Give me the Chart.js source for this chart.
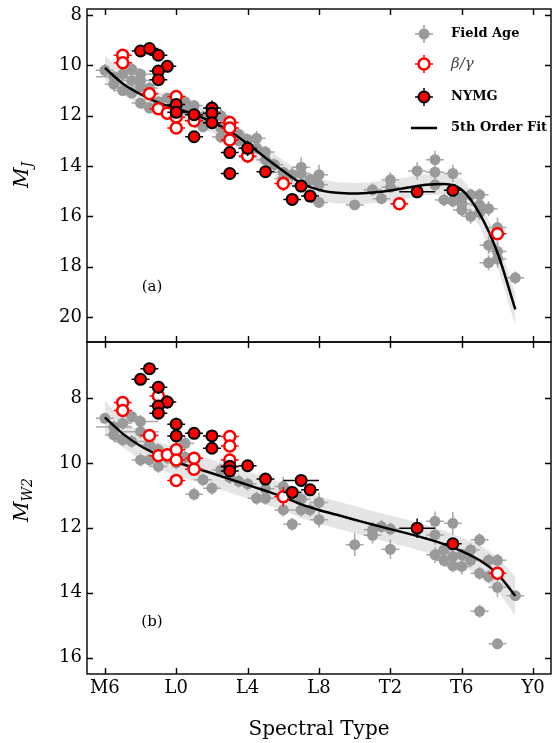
<!DOCTYPE html>
<html>
<head>
<meta charset="utf-8">
<script src="https://cdn.jsdelivr.net/npm/chart.js@4.4.1/dist/chart.umd.min.js"></script>
<style>
  html, body { margin: 0; padding: 0; background: #fff; }
  #wrap { position: relative; width: 559px; height: 743px; overflow: hidden; }
  canvas { position: absolute; left: 0; }
  #panelA { top: 0; }
  #panelB { top: 330px; }
</style>
</head>
<body>
<div id="wrap">
  <canvas id="panelA" width="559" height="350"></canvas>
  <canvas id="panelB" width="559" height="413"></canvas>
</div>
<script>
// spectral type axis: M6 = 6, L0 = 10, T0 = 20, Y0 = 30
const spectralTicks = [6, 10, 14, 18, 22, 26, 30];
const spectralLabels = ['M6', 'L0', 'L4', 'L8', 'T2', 'T6', 'Y0'];
const mjTicks = [8, 10, 12, 14, 16, 18, 20];
const mw2Ticks = [8, 10, 12, 14, 16];

// polynomial fit sampled at each subtype, with its scatter band
const fitX = [6, 7, 8, 9, 10, 11, 12, 13, 14, 15, 16, 17, 18, 19, 20, 21, 22, 23, 24, 25, 26, 27, 28, 29];
const fitMJ = [10.1, 10.72, 11.15, 11.48, 11.72, 11.95, 12.25, 12.62, 13.12, 13.67, 14.2, 14.68, 14.95, 15.07, 15.1, 15.06, 14.98, 14.86, 14.75, 14.72, 14.95, 15.9, 17.45, 19.7];
const bandMJTop = [9.6, 10.27, 10.73, 11.06, 11.3, 11.53, 11.83, 12.2, 12.7, 13.25, 13.78, 14.26, 14.53, 14.65, 14.68, 14.64, 14.56, 14.44, 14.33, 14.3, 14.5, 15.4, 16.9, 19.05];
const bandMJBot = [10.6, 11.17, 11.57, 11.9, 12.14, 12.37, 12.67, 13.04, 13.54, 14.09, 14.62, 15.1, 15.37, 15.49, 15.52, 15.48, 15.4, 15.28, 15.17, 15.14, 15.4, 16.4, 18.0, 20.35];
const fitMW2 = [8.6, 9.1, 9.48, 9.76, 9.98, 10.15, 10.32, 10.5, 10.68, 10.86, 11.05, 11.28, 11.45, 11.6, 11.75, 11.9, 12.04, 12.18, 12.33, 12.5, 12.72, 13.0, 13.42, 14.1];
const bandMW2Top = [8.1, 8.68, 9.06, 9.34, 9.56, 9.73, 9.9, 10.08, 10.26, 10.44, 10.63, 10.86, 11.03, 11.18, 11.33, 11.48, 11.62, 11.76, 11.91, 12.08, 12.3, 12.52, 12.9, 13.5];
const bandMW2Bot = [9.1, 9.52, 9.9, 10.18, 10.4, 10.57, 10.74, 10.92, 11.1, 11.28, 11.47, 11.7, 11.87, 12.02, 12.17, 12.32, 12.46, 12.6, 12.75, 12.92, 13.14, 13.48, 13.94, 14.7];

// [spectral type, magnitude, SpT error, mag error]
const fieldMJ = [
  [6.0, 10.2, 0.5, 0.25], [6.5, 10.75, 0.5, 0.3], [6.5, 10.45, 1.0, 0.2], [7.0, 10.35, 0.5, 0.25],
  [7.0, 11.0, 0.5, 0.2], [7.5, 10.15, 0.5, 0.3], [7.5, 10.6, 1.0, 0.3], [7.5, 11.1, 0.5, 0.2],
  [8.0, 10.35, 1.0, 0.2], [8.0, 10.6, 1.0, 0.25], [8.0, 10.85, 0.5, 0.3], [8.0, 11.5, 0.5, 0.2],
  [8.5, 10.9, 0.5, 0.25], [8.5, 11.7, 0.5, 0.2], [9.0, 11.45, 0.5, 0.2], [9.0, 11.7, 0.5, 0.25],
  [9.5, 11.3, 0.5, 0.2], [10.0, 11.4, 0.5, 0.2], [10.5, 11.45, 0.5, 0.25], [10.5, 11.75, 0.5, 0.2],
  [11.0, 11.6, 0.5, 0.2], [11.5, 12.05, 0.5, 0.25], [11.5, 12.45, 0.5, 0.2], [12.0, 12.1, 0.5, 0.2],
  [12.5, 12.0, 0.5, 0.3], [12.5, 12.5, 0.5, 0.2], [12.5, 12.85, 0.5, 0.25], [13.0, 12.6, 0.5, 0.2],
  [13.5, 12.75, 0.5, 0.25], [13.5, 13.0, 0.5, 0.2], [14.0, 12.95, 0.5, 0.2], [14.0, 13.65, 0.5, 0.25],
  [14.5, 12.9, 0.5, 0.3], [14.5, 13.3, 0.5, 0.2], [15.0, 13.45, 0.5, 0.25], [15.0, 13.75, 0.5, 0.2],
  [15.5, 13.95, 0.5, 0.25], [16.0, 14.25, 0.5, 0.2], [16.0, 14.5, 0.5, 0.25], [16.5, 14.35, 0.5, 0.3],
  [17.0, 14.05, 0.5, 0.4], [17.0, 14.3, 0.5, 0.3], [17.5, 14.55, 0.5, 0.25], [18.0, 14.35, 0.5, 0.4],
  [18.0, 14.75, 0.5, 0.3], [18.0, 15.45, 0.5, 0.2], [20.0, 15.55, 0.5, 0.2], [21.0, 14.95, 0.5, 0.25],
  [21.5, 15.3, 0.5, 0.2], [22.0, 14.55, 0.5, 0.3], [22.0, 14.85, 0.5, 0.2], [23.5, 14.2, 0.5, 0.35],
  [24.5, 13.75, 0.5, 0.35], [24.5, 14.25, 0.5, 0.3], [24.5, 14.75, 0.5, 0.3], [25.0, 15.35, 0.5, 0.25],
  [25.5, 14.3, 0.5, 0.35], [25.5, 15.4, 0.5, 0.25], [26.0, 15.25, 0.5, 0.25], [26.0, 15.5, 0.5, 0.3],
  [26.0, 15.75, 0.5, 0.25], [26.5, 15.15, 0.5, 0.25], [26.5, 16.0, 0.5, 0.3], [27.0, 15.15, 0.5, 0.25],
  [27.0, 15.55, 0.5, 0.3], [27.0, 15.85, 0.5, 0.3], [27.5, 15.7, 0.5, 0.3], [27.5, 17.15, 0.5, 0.35],
  [27.5, 17.85, 0.5, 0.3], [28.0, 16.45, 0.5, 0.4], [28.0, 17.4, 0.5, 0.4], [28.0, 17.7, 0.5, 0.35],
  [29.0, 18.45, 0.5, 0.25]
];
const betaMJ = [
  [7.0, 9.6, 0.5, 0.2], [7.0, 9.9, 0.5, 0.2], [8.5, 11.13, 0.5, 0.2], [9.0, 11.73, 0.5, 0.2],
  [9.5, 11.9, 0.5, 0.2], [10.0, 11.24, 0.5, 0.2], [10.0, 12.05, 0.5, 0.2], [10.0, 12.49, 0.5, 0.2],
  [11.0, 12.2, 0.5, 0.2], [13.0, 12.27, 0.5, 0.2], [13.0, 12.49, 0.5, 0.2], [13.0, 12.97, 0.5, 0.2],
  [14.0, 13.6, 0.5, 0.2], [16.0, 14.7, 0.5, 0.3], [22.5, 15.5, 0.5, 0.15], [28.0, 16.7, 0.5, 0.2]
];
const nymgMJ = [
  [8.0, 9.43, 0.5, 0.15], [8.5, 9.33, 0.5, 0.15], [9.0, 9.6, 0.5, 0.15], [9.5, 10.04, 0.5, 0.2],
  [9.0, 10.23, 0.5, 0.15], [9.0, 10.57, 0.5, 0.15], [10.0, 11.56, 0.5, 0.25], [10.0, 11.87, 0.5, 0.15],
  [11.0, 11.96, 0.5, 0.15], [12.0, 11.7, 0.5, 0.3], [12.0, 11.9, 0.5, 0.2], [12.0, 12.28, 0.5, 0.15],
  [11.0, 12.84, 0.5, 0.15], [13.0, 13.47, 0.5, 0.15], [13.0, 14.3, 0.5, 0.15], [14.0, 13.3, 0.5, 0.3],
  [15.0, 14.23, 0.5, 0.15], [16.5, 15.33, 0.5, 0.15], [17.0, 14.8, 0.5, 0.15], [17.5, 15.2, 0.5, 0.15],
  [23.5, 15.03, 1.0, 0.15], [25.5, 14.97, 0.5, 0.15]
];

const fieldMW2 = [
  [6.0, 8.63, 0.5, 0.15], [6.5, 9.14, 0.5, 0.2], [6.5, 8.9, 1.0, 0.2], [7.0, 8.78, 0.5, 0.2],
  [7.0, 9.29, 0.5, 0.2], [7.5, 8.57, 0.5, 0.2], [7.5, 9.34, 1.0, 0.2], [8.0, 8.73, 1.0, 0.2],
  [8.0, 9.04, 1.0, 0.2], [8.0, 9.91, 0.5, 0.2], [8.5, 9.45, 0.5, 0.2], [8.5, 9.91, 0.5, 0.2],
  [9.0, 9.6, 0.5, 0.2], [9.0, 10.11, 0.5, 0.2], [9.5, 9.85, 0.5, 0.2], [10.0, 10.0, 0.5, 0.2],
  [10.5, 9.4, 0.5, 0.2], [10.5, 9.83, 0.5, 0.2], [11.0, 10.97, 0.5, 0.2], [11.5, 10.52, 0.5, 0.2],
  [12.0, 10.78, 0.5, 0.2], [12.5, 10.22, 0.5, 0.2], [13.0, 10.45, 0.5, 0.2], [13.5, 10.57, 0.5, 0.2],
  [14.0, 10.65, 0.5, 0.2], [14.5, 11.09, 0.5, 0.2], [15.0, 11.09, 0.5, 0.2], [15.0, 10.8, 0.5, 0.2],
  [16.0, 10.73, 0.5, 0.3], [16.0, 11.45, 0.5, 0.2], [16.5, 11.89, 0.5, 0.2], [17.0, 11.12, 0.5, 0.25],
  [17.0, 11.45, 0.5, 0.2], [17.5, 11.45, 0.5, 0.2], [18.0, 11.22, 0.5, 0.3], [18.0, 11.75, 0.5, 0.25],
  [20.0, 12.52, 0.5, 0.35], [21.0, 12.06, 0.5, 0.25], [21.0, 12.23, 0.5, 0.25], [21.5, 11.96, 0.5, 0.2],
  [22.0, 12.04, 0.5, 0.2], [22.0, 12.66, 0.5, 0.3], [24.5, 11.8, 0.5, 0.3], [24.5, 12.22, 0.5, 0.3],
  [24.5, 12.83, 0.5, 0.25], [25.0, 12.68, 0.5, 0.2], [25.0, 13.0, 0.5, 0.2], [25.5, 11.86, 0.5, 0.35],
  [25.5, 12.88, 0.5, 0.2], [25.5, 13.17, 0.5, 0.2], [26.0, 12.83, 0.5, 0.2], [26.0, 13.19, 0.5, 0.25],
  [26.5, 12.68, 0.5, 0.2], [26.5, 13.0, 0.5, 0.2], [27.0, 12.37, 0.5, 0.2], [27.0, 13.4, 0.5, 0.2],
  [27.0, 14.57, 0.5, 0.2], [27.5, 13.0, 0.5, 0.2], [27.5, 13.5, 0.5, 0.2], [28.0, 13.0, 0.5, 0.2],
  [28.0, 13.83, 0.5, 0.3], [28.0, 15.57, 0.5, 0.15], [29.0, 14.09, 0.5, 0.15]
];
const betaMW2 = [
  [7.0, 8.14, 0.5, 0.2], [7.0, 8.39, 0.5, 0.2], [8.5, 9.16, 0.5, 0.2], [9.0, 7.94, 0.5, 0.2],
  [9.0, 9.78, 0.5, 0.2], [9.5, 9.75, 0.5, 0.2], [10.0, 9.6, 0.5, 0.2], [10.0, 9.91, 0.5, 0.2],
  [10.0, 10.54, 0.5, 0.15], [11.0, 9.86, 0.5, 0.2], [11.0, 10.2, 0.5, 0.2], [13.0, 9.19, 0.5, 0.2],
  [13.0, 9.48, 0.5, 0.2], [13.0, 9.91, 0.5, 0.2], [13.0, 10.11, 0.5, 0.2], [16.0, 11.04, 0.5, 0.3],
  [28.0, 13.4, 0.5, 0.2]
];
const nymgMW2 = [
  [8.0, 7.43, 0.5, 0.15], [8.5, 7.1, 0.5, 0.15], [9.0, 7.67, 0.5, 0.2], [9.5, 8.13, 0.5, 0.2],
  [9.0, 8.25, 0.5, 0.15], [9.0, 8.47, 0.5, 0.15], [10.0, 8.81, 0.5, 0.2], [10.0, 9.17, 0.5, 0.2],
  [11.0, 9.09, 0.5, 0.15], [12.0, 9.17, 0.5, 0.15], [12.0, 9.55, 0.5, 0.15], [13.0, 10.11, 0.5, 0.15],
  [13.0, 10.25, 0.5, 0.15], [14.0, 10.09, 0.5, 0.15], [15.0, 10.5, 0.5, 0.15], [16.5, 10.91, 0.5, 0.15],
  [17.0, 10.54, 1.0, 0.15], [17.5, 10.83, 0.5, 0.15], [23.5, 12.01, 1.0, 0.3], [25.5, 12.49, 0.5, 0.15]
];

const SERIF = 'DejaVu Serif';
const GRAY = '#9a9a9a';
const RED = '#ff0000';

const points = (rows) => rows.map(r => ({ x: r[0], y: r[1], xe: r[2], ye: r[3] }));
const curve = (ys) => fitX.map((x, i) => ({ x: x, y: ys[i] }));

// error bars go under each dataset's own markers
const errorBars = {
  id: 'errorBars',
  beforeDatasetDraw(chart, args) {
    const ds = chart.data.datasets[args.index];
    if (!ds.errorColor) return;
    const xs = chart.scales.x, ys = chart.scales.y, ctx = chart.ctx;
    ctx.save();
    ctx.strokeStyle = ds.errorColor;
    ctx.lineWidth = 1.5;
    ctx.beginPath();
    ds.data.forEach(p => {
      const cx = xs.getPixelForValue(p.x), cy = ys.getPixelForValue(p.y);
      ctx.moveTo(xs.getPixelForValue(p.x - p.xe), cy);
      ctx.lineTo(xs.getPixelForValue(p.x + p.xe), cy);
      ctx.moveTo(cx, ys.getPixelForValue(p.y - p.ye));
      ctx.lineTo(cx, ys.getPixelForValue(p.y + p.ye));
    });
    ctx.stroke();
    ctx.restore();
  }
};

// box, inward ticks on all four sides, panel tag and y title
const frame = {
  id: 'frame',
  afterDatasetsDraw(chart, args, opts) {
    const { ctx, chartArea: a, scales } = chart;
    ctx.save();
    ctx.strokeStyle = '#000';
    ctx.lineWidth = 1.4;
    ctx.strokeRect(a.left, a.top, a.right - a.left, a.bottom - a.top);
    ctx.beginPath();
    spectralTicks.forEach(v => {
      const px = Math.round(scales.x.getPixelForValue(v)) + 0.5;
      ctx.moveTo(px, a.top); ctx.lineTo(px, a.top + 6);
      ctx.moveTo(px, a.bottom); ctx.lineTo(px, a.bottom - 6);
    });
    opts.yTicks.forEach(v => {
      const py = Math.round(scales.y.getPixelForValue(v)) + 0.5;
      ctx.moveTo(a.left, py); ctx.lineTo(a.left + 6, py);
      ctx.moveTo(a.right, py); ctx.lineTo(a.right - 6, py);
    });
    ctx.stroke();

    ctx.fillStyle = '#000';
    ctx.font = '15px "' + SERIF + '"';
    ctx.textAlign = 'center';
    ctx.textBaseline = 'middle';
    ctx.fillText(opts.tag, 152, opts.tagY);

    // rotated M with subscript
    ctx.translate(28, opts.titleY);
    ctx.rotate(-Math.PI / 2);
    ctx.textAlign = 'left';
    ctx.textBaseline = 'alphabetic';
    ctx.font = 'italic 20px "' + SERIF + '"';
    const wM = ctx.measureText('M').width;
    ctx.font = 'italic 14px "' + SERIF + '"';
    const wS = ctx.measureText(opts.sub).width;
    const x0 = -(wM + wS) / 2;
    ctx.font = 'italic 20px "' + SERIF + '"';
    ctx.fillText('M', x0, 0);
    ctx.font = 'italic 14px "' + SERIF + '"';
    ctx.fillText(opts.sub, x0 + wM, 4);
    ctx.restore();
  }
};

function drawMarker(ctx, x, y, kind) {
  ctx.lineWidth = 1.5;
  ctx.strokeStyle = kind === 'field' ? GRAY : (kind === 'beta' ? RED : '#000');
  ctx.beginPath();
  ctx.moveTo(x - 9, y); ctx.lineTo(x + 9, y);
  ctx.moveTo(x, y - 9); ctx.lineTo(x, y + 9);
  ctx.stroke();
  ctx.beginPath();
  ctx.arc(x, y, 5.5, 0, Math.PI * 2);
  if (kind === 'field') {
    ctx.fillStyle = GRAY; ctx.fill();
  } else if (kind === 'beta') {
    ctx.fillStyle = '#fff'; ctx.fill();
    ctx.lineWidth = 2.5; ctx.strokeStyle = RED; ctx.stroke();
  } else {
    ctx.fillStyle = RED; ctx.fill();
    ctx.lineWidth = 2; ctx.strokeStyle = '#000'; ctx.stroke();
  }
}

const legendItems = [
  { kind: 'field', text: 'Field Age', y: 34 },
  { kind: 'beta', text: 'β/γ', y: 64 },
  { kind: 'nymg', text: 'NYMG', y: 97 },
  { kind: 'fit', text: '5th Order Fit', y: 128 }
];

const insetLegend = {
  id: 'insetLegend',
  afterDraw(chart) {
    const ctx = chart.ctx;
    ctx.save();
    legendItems.forEach(item => {
      if (item.kind === 'fit') {
        ctx.strokeStyle = '#000';
        ctx.lineWidth = 2.5;
        ctx.beginPath();
        ctx.moveTo(411, item.y); ctx.lineTo(437, item.y);
        ctx.stroke();
      } else {
        drawMarker(ctx, 424, item.y, item.kind);
      }
      ctx.fillStyle = item.kind === 'beta' ? '#444' : '#000';
      ctx.font = item.kind === 'beta' ? 'italic 15px "' + SERIF + '"' : 'bold 13px "' + SERIF + '"';
      ctx.textAlign = 'left';
      ctx.textBaseline = 'middle';
      ctx.fillText(item.text, 451, item.y);
    });
    ctx.restore();
  }
};

function panelDatasets(field, beta, nymg, fit, top, bot) {
  return [
    { type: 'line', data: curve(top), borderWidth: 0, pointRadius: 0, fill: '+1',
      backgroundColor: 'rgba(0,0,0,0.1)', order: 6 },
    { type: 'line', data: curve(bot), borderWidth: 0, pointRadius: 0, fill: false, order: 6 },
    { label: 'Field Age', data: points(field), pointRadius: 5.5, backgroundColor: GRAY,
      borderWidth: 0, errorColor: '#a8a8a8', order: 5 },
    { type: 'line', label: '5th Order Fit', data: curve(fit), borderColor: '#000', borderWidth: 2.5,
      pointRadius: 0, cubicInterpolationMode: 'monotone', fill: false, order: 4 },
    { label: 'β/γ', data: points(beta), pointRadius: 5.5, backgroundColor: '#fff',
      borderColor: RED, borderWidth: 2.5, errorColor: RED, order: 3 },
    { label: 'NYMG', data: points(nymg), pointRadius: 5.5, backgroundColor: RED,
      borderColor: '#000', borderWidth: 2, errorColor: '#000', order: 2 }
  ];
}

function makePanel(id, cfg) {
  return new Chart(document.getElementById(id), {
    type: 'scatter',
    data: { datasets: panelDatasets(cfg.field, cfg.beta, cfg.nymg, cfg.fit, cfg.top, cfg.bot) },
    plugins: cfg.extraPlugins.concat([errorBars, frame]),
    options: {
      responsive: false,
      animation: false,
      devicePixelRatio: 1,
      layout: { padding: cfg.padding },
      scales: {
        x: {
          type: 'linear', min: 5, max: 31,
          display: cfg.showX,
          grid: { display: false, drawTicks: false },
          border: { display: false },
          afterBuildTicks: (s) => { s.ticks = spectralTicks.map(v => ({ value: v })); },
          // only the lower panel carries labels; the upper one keeps a zero-height axis
          afterFit: (s) => { s.height = cfg.showX ? 69 : 0; s.paddingLeft = 0; s.paddingRight = 0; },
          ticks: {
            color: '#000', padding: 4, maxRotation: 0, autoSkip: false,
            font: { family: SERIF, size: 18 },
            callback: (v) => spectralLabels[spectralTicks.indexOf(v)]
          },
          title: {
            display: true, text: 'Spectral Type', color: '#000',
            font: { family: SERIF, size: 20 }, padding: { top: 0, bottom: 1 }
          }
        },
        y: {
          type: 'linear', reverse: true, min: cfg.yMin, max: cfg.yMax,
          grid: { display: false, drawTicks: false },
          border: { display: false },
          afterBuildTicks: (s) => { s.ticks = cfg.yTicks.map(v => ({ value: v })); },
          afterFit: (s) => { s.width = 87; s.paddingTop = 0; s.paddingBottom = 0; },
          ticks: { color: '#000', padding: 5, autoSkip: false, font: { family: SERIF, size: 18 } }
        }
      },
      plugins: {
        legend: { display: false },
        tooltip: { enabled: false },
        frame: { yTicks: cfg.yTicks, tag: cfg.tag, tagY: cfg.tagY, sub: cfg.sub, titleY: cfg.titleY }
      }
    }
  });
}

makePanel('panelA', {
  field: fieldMJ, beta: betaMJ, nymg: nymgMJ, fit: fitMJ, top: bandMJTop, bot: bandMJBot,
  yMin: 7.76, yMax: 21.0, yTicks: mjTicks, showX: false,
  padding: { top: 9, right: 7, bottom: 8, left: 0 },
  tag: '(a)', tagY: 287, sub: 'J', titleY: 175,
  extraPlugins: [insetLegend]
});

makePanel('panelB', {
  field: fieldMW2, beta: betaMW2, nymg: nymgMW2, fit: fitMW2, top: bandMW2Top, bot: bandMW2Bot,
  yMin: 6.28, yMax: 16.5, yTicks: mw2Ticks, showX: true,
  padding: { top: 12, right: 7, bottom: 0, left: 0 },
  tag: '(b)', tagY: 292, sub: 'W2', titleY: 170,
  extraPlugins: []
});
</script>
</body>
</html>
